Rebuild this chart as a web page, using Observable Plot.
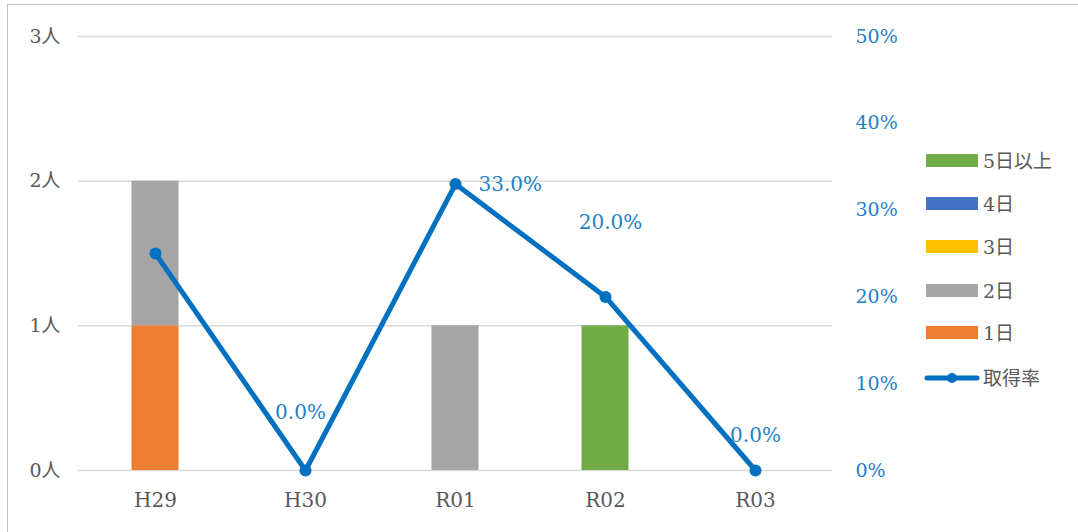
<!DOCTYPE html>
<html>
<head>
<meta charset="utf-8">
<script src="https://cdn.jsdelivr.net/npm/d3@7"></script>
<script src="https://cdn.jsdelivr.net/npm/@observablehq/plot@0.6"></script>
<style>
  html, body { margin: 0; padding: 0; background: #fff; }
  #wrap { position: relative; width: 1078px; height: 532px; overflow: hidden; }
  #frame { position: absolute; left: 7px; top: 4px; width: 1100px; height: 560px; border: 1.5px solid #bfbfbf; box-sizing: border-box; }
  #chart { position: absolute; left: 0; top: 0; }
  #legend { position: absolute; left: 926px; top: 150px; font-family: "DejaVu Serif", "Noto Sans CJK JP", serif; font-size: 19px; color: #595959; }
  .item { position: absolute; left: 0; white-space: nowrap; height: 22px; line-height: 22px; }
  .sw { position: absolute; left: 0; top: 4px; width: 52px; height: 13px; }
  .lbl { position: absolute; left: 57px; top: 0; }
</style>
</head>
<body>
<div id="wrap">
  <div id="frame"></div>
  <div id="chart"></div>
  <div id="legend"></div>
</div>
<script>
const categories = ["H29", "H30", "R01", "R02", "R03"];
const seriesNames = ["1日", "2日", "3日", "4日", "5日以上"];
const day1 = [1, 0, 0, 0, 0];
const day2 = [1, 0, 1, 0, 0];
const day3 = [0, 0, 0, 0, 0];
const day4 = [0, 0, 0, 0, 0];
const day5plus = [0, 0, 0, 1, 0];
const rate = [25, 0, 33, 20, 0];           // 取得率 (%)
const rateLabels = ["", "0.0%", "33.0%", "20.0%", "0.0%"];
const leftTicks = [0, 1, 2, 3];
const leftTickLabels = ["0人", "1人", "2人", "3人"];
const rightTicks = [0, 10, 20, 30, 40, 50];
const rightTickLabels = ["0%", "10%", "20%", "30%", "40%", "50%"];
const seriesColors = ["#ed7d31", "#a5a5a5", "#ffc000", "#4472c4", "#70ad47"];
const lineColor = "#0070c0";

const seriesValues = [day1, day2, day3, day4, day5plus];
const bars = [];
seriesNames.forEach((s, si) => {
  categories.forEach((c, ci) => {
    bars.push({cat: c, series: s, value: seriesValues[si][ci]});
  });
});
const rateRows = categories.map((c, i) => ({cat: c, rate: rate[i], label: rateLabels[i], i}));
// right axis (0–50%) shares the pixel range of the left axis (0–3人)
const toLeft = p => p * 3 / 50;

// label placement (style only): [dx, dy, anchor]
const labelPlace = [null, [-5, -58, "middle"], [23, 1, "start"], [5, -74, "middle"], [0, -35, "middle"]];

const font = "'DejaVu Serif', 'Noto Sans CJK JP', serif";

const labelMarks = rateRows.filter(d => d.label).map(d => {
  const [dx, dy, anchor] = labelPlace[d.i];
  return Plot.text([d], {x: "cat", y: r => toLeft(r.rate), text: "label", dx, dy, textAnchor: anchor, fill: "#1f7fc9", fontSize: 20});
});

const chart = Plot.plot({
  width: 910,
  height: 532,
  marginTop: 36,
  marginBottom: 62,
  marginLeft: 78,
  marginRight: 78,
  style: {fontFamily: font, fontSize: "19px", background: "transparent"},
  x: {domain: categories, padding: 0, label: null},
  y: {domain: [0, 3], label: null},
  color: {domain: seriesNames, range: seriesColors},
  marks: [
    Plot.ruleY(leftTicks, {stroke: "#d9d9d9", strokeWidth: 1.5}),
    Plot.barY(bars, {x: "cat", y: "value", fill: "series", insetLeft: 51.5, insetRight: 51.5}),
    Plot.axisY(leftTicks, {anchor: "left", tickSize: 0, tickPadding: 18, tickFormat: (d, i) => leftTickLabels[i], fill: "#595959", fontSize: 19, fontFamily: font, label: null}),
    Plot.axisY(rightTicks.map(toLeft), {anchor: "right", tickSize: 0, tickPadding: 23, tickFormat: (d, i) => rightTickLabels[i], fill: "#1f7fc9", fontSize: 19, fontFamily: font, label: null}),
    Plot.axisX({tickSize: 0, tickPadding: 22, fill: "#595959", fontSize: 20, fontFamily: font, label: null}),
    Plot.line(rateRows, {x: "cat", y: d => toLeft(d.rate), stroke: lineColor, strokeWidth: 5}),
    Plot.dot(rateRows, {x: "cat", y: d => toLeft(d.rate), r: 6, fill: lineColor, stroke: "none"}),
    ...labelMarks
  ]
});

document.getElementById("chart").appendChild(chart);

// legend (top to bottom: 5日以上 … 1日, then 取得率)
const legend = document.getElementById("legend");
const tops = [0, 43, 86, 130, 172];
const order = [4, 3, 2, 1, 0];
order.forEach((si, k) => {
  const item = document.createElement("div");
  item.className = "item";
  item.style.top = tops[k] + "px";
  item.innerHTML = `<div class="sw" style="background:${seriesColors[si]}"></div><div class="lbl">${seriesNames[si]}</div>`;
  legend.appendChild(item);
});
const li = document.createElement("div");
li.className = "item";
li.style.top = "217px";
li.innerHTML = `<svg width="56" height="22" style="position:absolute;left:-2px;top:0"><line x1="3" y1="11" x2="53" y2="11" stroke="${lineColor}" stroke-width="5" stroke-linecap="round"/><circle cx="28" cy="11" r="5" fill="${lineColor}"/></svg><div class="lbl">取得率</div>`;
legend.appendChild(li);
</script>
</body>
</html>
